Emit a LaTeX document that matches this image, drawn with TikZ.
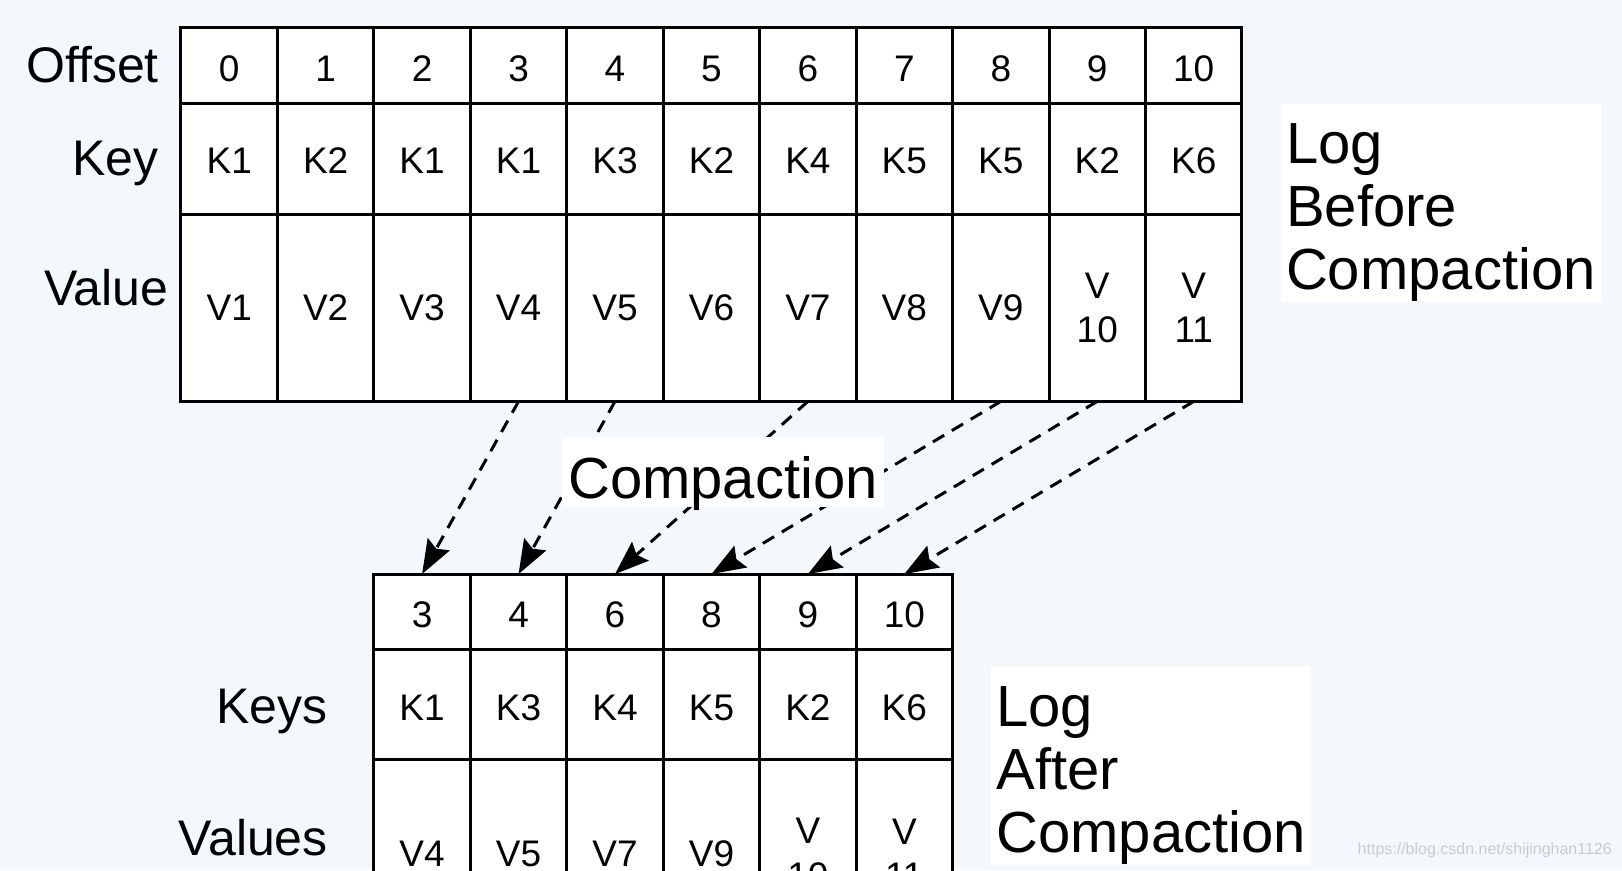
\documentclass[tikz,border=0pt]{standalone}
\usepackage{fontspec}
\setmainfont{Liberation Sans}
\usetikzlibrary{arrows.meta, positioning}
\definecolor{paper}{RGB}{243,248,253}
\definecolor{urlgray}{RGB}{196,204,212}
\tikzset{
  cell/.style={draw, line width=3pt, fill=white, inner sep=0pt, outer sep=0pt,
    align=center, minimum width=96.45pt, font=\fontsize{37}{44.5}\selectfont},
  offrow/.style={cell, minimum height=75.5pt, text height=31pt, text depth=0pt},
  keyrow/.style={cell, minimum height=110.7pt, text height=30pt, text depth=0pt},
  valrow/.style={cell, minimum height=187.3pt},
  rowlabel/.style={anchor=base east, inner sep=0pt, font=\fontsize{50}{50}\selectfont},
  logbox/.style={fill=white, align=left, anchor=west, minimum width=320pt,
    minimum height=197pt, inner sep=0pt, font=\fontsize{58}{63}\selectfont},
  keeparrow/.style={-{Stealth[length=34pt, width=25pt, inset=5pt]}, line width=3pt,
    dash pattern=on 13pt off 9pt}
}
\begin{document}
\begin{tikzpicture}[x=1pt, y=-1pt]

  \clip (0,0) rectangle (1622,870);
  \fill[paper] (0,0) rectangle (1622,870);

  % Log before compaction
  \foreach \k/\v [count=\i from 0] in {K1/V1, K2/V2, K1/V3, K1/V4, K3/V5, K2/V6,
      K4/V7, K5/V8, K5/V9, K2/{V\\10}, K6/{V\\11}} {
    \node[offrow] (off\i) at (229.2+96.45*\i, 65.7) {\i};
    \node[keyrow] (key\i) at (229.2+96.45*\i, 158.75) {\k};
    \node[valrow] (val\i) at (229.2+96.45*\i, 307.75) {\v};
  }

  % Log after compaction
  \foreach \s/\k/\v [count=\j from 0] in {3/K1/V4, 4/K3/V5, 6/K4/V7, 8/K5/V9,
      9/K2/{V\\10}, 10/K6/{V\\11}} {
    \node[offrow] (aoff\j) at (422.1+96.45*\j, 611.8) {\s};
    \node[keyrow] (akey\j) at (422.1+96.45*\j, 705) {\k};
    \node[valrow] (aval\j) at (422.1+96.45*\j, 853.6) {\v};
  }

  % Kept records
  \foreach \s [count=\j from 0] in {3,4,6,8,9,10}
    \draw[keeparrow] (val\s.south) -- (aoff\j.north);

  \node[fill=white, minimum width=322pt, minimum height=70pt, inner sep=0pt,
    text height=53.6pt, text depth=0pt, font=\fontsize{58}{58}\selectfont]
    (compact) at (723,472) {Compaction};

  \node[logbox] (before) at (1280.6,203) {\rule{0pt}{59pt}Log\\Before\\Compaction};
  \node[logbox] (after) at (991,766) {\rule{0pt}{59pt}Log\\After\\Compaction};

  % Row labels
  \node[rowlabel] (offlabel) at (159,82.5) {Offset};
  \node[rowlabel] (keylabel) at (159,175) {Key};
  \node[rowlabel] (vallabel) at (168.5,305) {Value};
  \node[rowlabel] (keyslabel) at (328,723.5) {Keys};
  \node[rowlabel] (valslabel) at (328,855) {Values};

  \node[anchor=east, inner sep=0pt, text=urlgray, font=\fontsize{16}{16}\selectfont]
    (url) at (1612,850) {https://blog.csdn.net/shijinghan1126};

\end{tikzpicture}
\end{document}
